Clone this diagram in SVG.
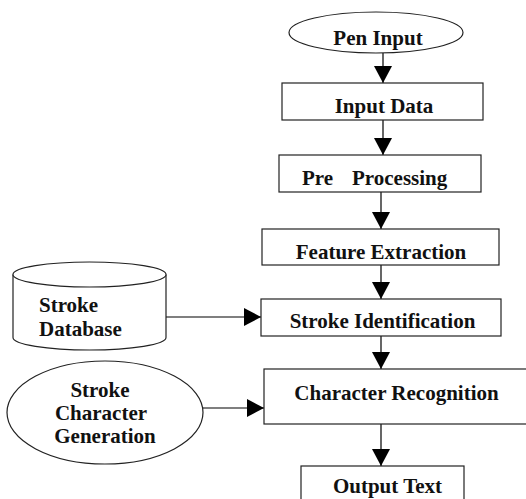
<svg xmlns="http://www.w3.org/2000/svg" width="526" height="499" viewBox="0 0 526 499">
  <style>
    .shape { fill: #ffffff; stroke: #222222; stroke-width: 1.2; }
    .label { font-family: "Liberation Serif", "Times New Roman", serif; font-weight: bold; font-size: 21px; fill: #111111; }
    .mid { text-anchor: middle; }
    .link { fill: none; stroke: #000000; stroke-width: 1.2; }
  </style>
  <defs>
    <marker id="head" viewBox="0 0 17 18" refX="17" refY="9" markerWidth="17" markerHeight="18" markerUnits="userSpaceOnUse" orient="auto">
      <path d="M0,0 L17,9 L0,18 Z" fill="#000000"/>
    </marker>
  </defs>
  <rect width="526" height="499" fill="#ffffff"/>

  <g id="connectors">
    <line class="link" x1="383" y1="53" x2="383" y2="83" marker-end="url(#head)"/>
    <line class="link" x1="383" y1="120" x2="383" y2="155" marker-end="url(#head)"/>
    <line class="link" x1="381" y1="192" x2="381" y2="229" marker-end="url(#head)"/>
    <line class="link" x1="381" y1="265" x2="381" y2="299" marker-end="url(#head)"/>
    <line class="link" x1="381" y1="336" x2="381" y2="369" marker-end="url(#head)"/>
    <line class="link" x1="381" y1="424" x2="381" y2="466" marker-end="url(#head)"/>
    <line class="link" x1="162" y1="317" x2="261" y2="317" marker-end="url(#head)"/>
    <line class="link" x1="203" y1="408" x2="264" y2="408" marker-end="url(#head)"/>
  </g>

  <g id="pen-input">
    <ellipse class="shape" cx="376" cy="32.5" rx="87" ry="20.5"/>
    <text class="label mid" x="378" y="45">Pen Input</text>
  </g>

  <g id="input-data">
    <rect class="shape" x="282" y="83" width="201" height="37"/>
    <text class="label mid" x="384" y="113">Input Data</text>
  </g>

  <g id="pre-processing">
    <rect class="shape" x="279" y="155" width="202" height="37"/>
    <text class="label" x="302" y="185">Pre</text>
    <text class="label" x="352" y="185">Processing</text>
  </g>

  <g id="feature-extraction">
    <rect class="shape" x="262" y="229" width="237" height="36"/>
    <text class="label mid" x="381" y="259">Feature Extraction</text>
  </g>

  <g id="stroke-identification">
    <rect class="shape" x="261" y="299" width="240" height="37"/>
    <text class="label mid" x="382.5" y="328">Stroke Identification</text>
  </g>

  <g id="stroke-database">
    <path class="shape" d="M13,274.5 L13,337.5 A76.5,12.5 0 0 0 166,337.5 L166,274.5"/>
    <ellipse class="shape" cx="89.5" cy="274.5" rx="76.5" ry="12.5"/>
    <text class="label" x="39" y="312">Stroke</text>
    <text class="label" x="39" y="336">Database</text>
  </g>

  <g id="character-recognition">
    <rect class="shape" x="264" y="369" width="268" height="55"/>
    <text class="label mid" x="396.5" y="400">Character Recognition</text>
  </g>

  <g id="stroke-character-generation">
    <ellipse class="shape" cx="105" cy="412.5" rx="98" ry="51.5"/>
    <text class="label mid" x="100" y="397">Stroke</text>
    <text class="label mid" x="101" y="420">Character</text>
    <text class="label mid" x="105" y="443">Generation</text>
  </g>

  <g id="output-text">
    <rect class="shape" x="301" y="466" width="163" height="40"/>
    <text class="label mid" x="387.5" y="493">Output Text</text>
  </g>
</svg>
